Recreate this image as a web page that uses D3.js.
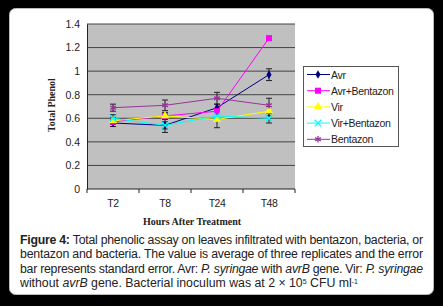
<!DOCTYPE html>
<html>
<head>
<meta charset="utf-8">
<script src="https://cdn.jsdelivr.net/npm/d3@7"></script>
<style>
  body { margin: 0; background: #000; }
  svg { display: block; }
</style>
</head>
<body>
<svg id="chart"></svg>
<script>
const width = 443;
const height = 306;

const categories = ["T2", "T8", "T24", "T48"];
const seriesNames = ["Avr", "Avr+Bentazon", "Vir", "Vir+Bentazon", "Bentazon"];
const avr = [0.56, 0.54, 0.69, 0.97];
const avrBentazon = [0.57, 0.62, 0.66, 1.28];
const vir = [0.58, 0.62, 0.59, 0.66];
const virBentazon = [0.60, 0.54, 0.62, 0.60];
const bentazon = [0.69, 0.71, 0.77, 0.71];
const avrErr = [0.03, 0.06, 0.03, 0.05];
const avrBentazonErr = [0.02, 0.02, 0.02, 0.015];
const virErr = [0.03, 0.03, 0.07, 0.04];
const virBentazonErr = [0.03, 0.03, 0.03, 0.04];
const bentazonErr = [0.03, 0.045, 0.05, 0.06];
const yTicks = [0, 0.2, 0.4, 0.6, 0.8, 1, 1.2, 1.4];

const series = [
  { name: seriesNames[0], values: avr, err: avrErr, color: "#000080", marker: "diamond" },
  { name: seriesNames[1], values: avrBentazon, err: avrBentazonErr, color: "#ff00ff", marker: "square" },
  { name: seriesNames[2], values: vir, err: virErr, color: "#ffff00", marker: "triangle" },
  { name: seriesNames[3], values: virBentazon, err: virBentazonErr, color: "#00ffff", marker: "x" },
  { name: seriesNames[4], values: bentazon, err: bentazonErr, color: "#993399", marker: "star" }
];

const plot = { left: 87, right: 295, top: 24, bottom: 189 };

const svg = d3.select("#chart").attr("width", width).attr("height", height);

// white card
svg.append("rect")
  .attr("x", 9.5).attr("y", 8.5)
  .attr("width", 424).attr("height", 286)
  .attr("rx", 6)
  .attr("fill", "#fff")
  .attr("stroke", "#bbb");

const xScale = d3.scaleBand().domain(categories).range([plot.left, plot.right]);
const yScale = d3.scaleLinear().domain([0, 1.4]).range([plot.bottom, plot.top]);

svg.append("rect")
  .attr("x", plot.left).attr("y", plot.top)
  .attr("width", plot.right - plot.left).attr("height", plot.bottom - plot.top)
  .attr("fill", "#c0c0c0");

// grid
svg.append("g")
  .selectAll("line")
  .data(yTicks.filter(d => d > 0))
  .enter()
  .append("line")
  .attr("x1", plot.left).attr("x2", plot.right)
  .attr("y1", d => yScale(d)).attr("y2", d => yScale(d))
  .attr("stroke", "#444").attr("stroke-width", 1);

// y axis
const yAxis = d3.axisLeft(yScale).tickValues(yTicks).tickSize(0).tickPadding(7).tickFormat(d => d3.format("")(d));
const yG = svg.append("g").attr("transform", `translate(${plot.left},0)`).call(yAxis);
yG.select(".domain").attr("stroke", "#222");
yG.selectAll("text").attr("font-family", "Liberation Sans, Arial, sans-serif").attr("font-size", 10.5).attr("fill", "#222");

// x axis with ticks at category boundaries
svg.append("line")
  .attr("x1", plot.left).attr("x2", plot.right)
  .attr("y1", plot.bottom).attr("y2", plot.bottom)
  .attr("stroke", "#222");
svg.append("g")
  .selectAll("line")
  .data(categories.concat(["end"]))
  .enter()
  .append("line")
  .attr("x1", (d, i) => plot.left + i * xScale.step())
  .attr("x2", (d, i) => plot.left + i * xScale.step())
  .attr("y1", plot.bottom).attr("y2", plot.bottom + 4)
  .attr("stroke", "#222");
svg.append("g")
  .selectAll("text")
  .data(categories)
  .enter()
  .append("text")
  .attr("x", d => xScale(d) + xScale.bandwidth() / 2)
  .attr("y", 207)
  .attr("text-anchor", "middle")
  .attr("font-family", "Liberation Sans, Arial, sans-serif")
  .attr("font-size", 10.5)
  .attr("fill", "#222")
  .attr("letter-spacing", -0.5)
  .text(d => d);

// axis titles
svg.append("text")
  .attr("x", 192).attr("y", 225)
  .attr("text-anchor", "middle")
  .attr("font-family", "Liberation Serif, Times New Roman, serif")
  .attr("font-weight", "bold")
  .attr("font-size", 10)
  .attr("fill", "#222")
  .text("Hours After Treatment");

svg.append("text")
  .attr("transform", "translate(55,105) rotate(-90)")
  .attr("text-anchor", "middle")
  .attr("font-family", "Liberation Serif, Times New Roman, serif")
  .attr("font-weight", "bold")
  .attr("font-size", 10)
  .attr("fill", "#222")
  .text("Total Phenol");

const cx = i => xScale(categories[i]) + xScale.bandwidth() / 2;

function drawMarker(g, s, x, y) {
  if (s.marker === "diamond") {
    g.append("path").attr("d", d3.symbol(d3.symbolDiamond, 22)()).attr("transform", `translate(${x},${y})`).attr("fill", s.color);
  } else if (s.marker === "square") {
    g.append("rect").attr("x", x - 3).attr("y", y - 3).attr("width", 6).attr("height", 6).attr("fill", s.color);
  } else if (s.marker === "triangle") {
    g.append("path").attr("d", d3.symbol(d3.symbolTriangle, 30)()).attr("transform", `translate(${x},${y})`).attr("fill", s.color);
  } else if (s.marker === "x") {
    g.append("path").attr("d", d3.symbol(d3.symbolX, 30)()).attr("transform", `translate(${x},${y})`).attr("fill", "none").attr("stroke", s.color).attr("stroke-width", 1.3);
  } else if (s.marker === "star") {
    g.append("path").attr("d", d3.symbol(d3.symbolAsterisk, 30)()).attr("transform", `translate(${x},${y})`).attr("fill", "none").attr("stroke", s.color).attr("stroke-width", 1.3);
  }
}

// error bars
const errG = svg.append("g");
series.forEach(s => {
  s.values.forEach((v, i) => {
    const x = cx(i);
    const y0 = yScale(v - s.err[i]);
    const y1 = yScale(v + s.err[i]);
    errG.append("line").attr("x1", x).attr("x2", x).attr("y1", y0).attr("y2", y1).attr("stroke", "#222");
    errG.append("line").attr("x1", x - 3).attr("x2", x + 3).attr("y1", y0).attr("y2", y0).attr("stroke", "#222");
    errG.append("line").attr("x1", x - 3).attr("x2", x + 3).attr("y1", y1).attr("y2", y1).attr("stroke", "#222");
  });
});

// lines and markers
const line = d3.line().x((d, i) => cx(i)).y(d => yScale(d));
series.forEach(s => {
  const g = svg.append("g");
  g.append("path")
    .attr("d", line(s.values))
    .attr("fill", "none")
    .attr("stroke", s.color)
    .attr("stroke-width", 1);
  s.values.forEach((v, i) => drawMarker(g, s, cx(i), yScale(v)));
});

// legend
const legend = svg.append("g").attr("id", "legend");
legend.append("rect")
  .attr("x", 303.5).attr("y", 66.5)
  .attr("width", 95).attr("height", 80)
  .attr("fill", "#fff")
  .attr("stroke", "#555");
series.forEach((s, i) => {
  const y = 74.5 + i * 16.2;
  legend.append("line")
    .attr("x1", 307).attr("x2", 330)
    .attr("y1", y).attr("y2", y)
    .attr("stroke", s.color);
  drawMarker(legend, s, 318, y);
  legend.append("text")
    .attr("x", 331).attr("y", y + 4)
    .attr("font-family", "Liberation Sans, Arial, sans-serif")
    .attr("font-size", 10.5)
    .attr("fill", "#222")
    .attr("letter-spacing", -0.3)
    .text(s.name);
});

// caption
const capLines = [
  [["Figure 4: ", "bold"], ["Total phenolic assay on leaves infiltrated with bentazon, bacteria, or", ""]],
  [["bentazon and bacteria. The value is average of three replicates and the error", ""]],
  [["bar represents standard error. Avr: ", ""], ["P. syringae", "italic"], [" with ", ""], ["avrB", "italic"], [" gene. Vir: ", ""], ["P. syringae", "italic"]],
  [["without ", ""], ["avrB", "italic"], [" gene. Bacterial inoculum was at 2 × 10", ""], ["5", "sup"], [" CFU ml", ""], ["-1", "sup"]]
];
capLines.forEach((parts, li) => {
  const t = svg.append("text")
    .attr("x", 20).attr("y", 244 + li * 14.3)
    .attr("font-family", "Liberation Sans, Arial, sans-serif")
    .attr("font-size", 12.3)
    .attr("fill", "#222")
    .attr("textLength", li < 3 ? 403 : null)
    .attr("lengthAdjust", "spacing");
  parts.forEach(([txt, style]) => {
    const ts = t.append("tspan").text(txt);
    if (style === "bold") ts.attr("font-weight", "bold");
    if (style === "italic") ts.attr("font-style", "italic");
    if (style === "sup") ts.attr("font-size", 7).attr("baseline-shift", "super");
  });
});
</script>
</body>
</html>
